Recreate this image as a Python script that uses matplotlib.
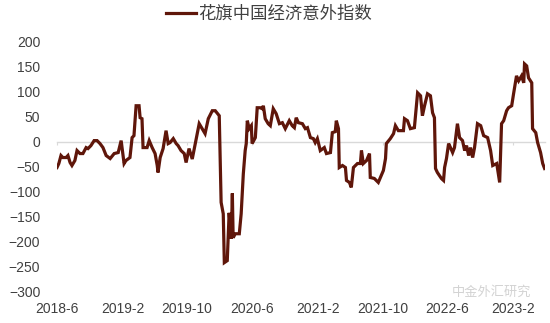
import pandas as pd
import matplotlib
matplotlib.use("Agg")
from matplotlib import pyplot as plt

plt.rcParams['font.family'] = ['Liberation Sans', 'Noto Sans CJK SC', 'DejaVu Sans']

# citi china economic surprise index
dates = [
    "2018-06-01", "2018-06-08", "2018-06-16", "2018-06-23", "2018-07-05", "2018-07-12",
    "2018-07-20", "2018-07-27", "2018-08-07", "2018-08-15", "2018-08-26", "2018-09-06",
    "2018-09-18", "2018-09-25", "2018-10-06", "2018-10-18", "2018-10-29", "2018-11-09",
    "2018-11-20", "2018-12-02", "2018-12-17", "2019-01-01", "2019-01-16", "2019-01-27",
    "2019-02-07", "2019-02-14", "2019-03-01", "2019-03-09", "2019-03-16", "2019-03-24",
    "2019-04-04", "2019-04-08", "2019-04-15", "2019-04-19", "2019-05-04", "2019-05-12",
    "2019-05-23", "2019-06-03", "2019-06-11", "2019-06-14", "2019-06-22", "2019-07-03",
    "2019-07-14", "2019-07-22", "2019-07-29", "2019-08-10", "2019-08-21", "2019-08-28",
    "2019-09-08", "2019-09-20", "2019-09-27", "2019-10-08", "2019-10-20", "2019-11-04",
    "2019-11-15", "2019-11-26", "2019-12-07", "2019-12-19", "2020-01-03", "2020-01-14",
    "2020-01-29", "2020-02-05", "2020-02-13", "2020-02-17", "2020-02-28", "2020-03-06",
    "2020-03-14", "2020-03-18", "2020-03-21", "2020-03-29", "2020-04-13", "2020-04-20",
    "2020-04-28", "2020-05-05", "2020-05-09", "2020-05-13", "2020-05-20", "2020-05-28",
    "2020-05-31", "2020-06-12", "2020-06-19", "2020-06-30", "2020-07-08", "2020-07-12",
    "2020-07-19", "2020-07-30", "2020-08-07", "2020-08-18", "2020-08-29", "2020-09-10",
    "2020-09-21", "2020-10-02", "2020-10-17", "2020-10-28", "2020-11-05", "2020-11-12",
    "2020-11-20", "2020-12-05", "2020-12-16", "2020-12-24", "2021-01-04", "2021-01-15",
    "2021-01-22", "2021-01-30", "2021-02-10", "2021-02-25", "2021-03-05", "2021-03-20",
    "2021-03-27", "2021-04-07", "2021-04-11", "2021-04-19", "2021-04-22", "2021-05-04",
    "2021-05-15", "2021-05-19", "2021-05-30", "2021-06-06", "2021-06-14", "2021-06-29",
    "2021-07-10", "2021-07-14", "2021-07-21", "2021-08-02", "2021-08-13", "2021-08-16",
    "2021-08-31", "2021-09-15", "2021-10-04", "2021-10-12", "2021-10-15", "2021-10-30",
    "2021-11-11", "2021-11-18", "2021-11-29", "2021-12-18", "2021-12-22", "2022-01-02",
    "2022-01-13", "2022-01-28", "2022-02-09", "2022-02-20", "2022-02-27", "2022-03-07",
    "2022-03-18", "2022-03-29", "2022-04-06", "2022-04-13", "2022-04-17", "2022-04-24",
    "2022-05-09", "2022-05-17", "2022-05-21", "2022-05-28", "2022-06-05", "2022-06-12",
    "2022-06-20", "2022-06-27", "2022-07-08", "2022-07-16", "2022-07-27", "2022-08-04",
    "2022-08-11", "2022-08-19", "2022-08-26", "2022-09-03", "2022-09-10", "2022-09-21",
    "2022-10-03", "2022-10-14", "2022-10-29", "2022-11-09", "2022-11-17", "2022-12-02",
    "2022-12-13", "2022-12-20", "2022-12-28", "2023-01-08", "2023-01-15", "2023-01-27",
    "2023-02-03", "2023-02-14", "2023-02-22", "2023-03-05", "2023-03-13", "2023-03-16",
    "2023-03-24", "2023-03-31", "2023-04-12", "2023-04-15", "2023-04-27", "2023-05-04",
    "2023-05-15", "2023-05-23", "2023-05-30",
]
values = [
    -52, -44, -28, -32, -32, -28,
    -42, -48, -38, -18, -24, -24,
    -12, -14, -8, 2, 2, -4,
    -12, -28, -34, -24, -22, 2,
    -44, -38, -32, 8, 12, 72,
    72, 48, 46, -12, -12, 2,
    -12, -24, -48, -62, -32, -14,
    22, -4, -2, 6, -4, -8,
    -18, -24, -42, -14, -35, 6,
    36, 26, 16, 46, 62, 62,
    52, -122, -145, -243, -239, -143,
    -195, -104, -193, -185, -185, -145,
    -65, -18, -4, 42, 26, 32,
    -4, 8, 68, 68, 66, 72,
    46, 36, 32, 66, 56, 36,
    38, 26, 42, 32, 28, 48,
    38, 36, 26, 28, 8, 6,
    -2, 6, -18, -12, -24, -22,
    18, 20, 42, 26, -52, -48,
    -52, -78, -82, -92, -52, -44,
    -44, -18, -44, -38, -24, -72,
    -74, -82, -58, -34, -4, 6,
    16, 32, 22, 22, 46, 42,
    26, 28, 98, 92, 52, 72,
    96, 92, 58, 48, -54, -62,
    -74, -78, -52, -34, -4, -12,
    -22, -12, 36, 8, 2, -18,
    -8, -28, -12, -32, -12, 36,
    32, 12, 8, -18, -48, -44,
    -82, 36, 42, 62, 68, 72,
    96, 132, 122, 132, 118, 156,
    152, 128, 118, 26, 18, -2,
    -22, -44, -54,
]
tick_dates = ["2018-06-01", "2019-02-01", "2019-10-01", "2020-06-01",
              "2021-02-01", "2021-10-01", "2022-06-01", "2023-02-01"]
tick_labels = ["2018-6", "2019-2", "2019-10", "2020-6",
               "2021-2", "2021-10", "2022-6", "2023-2"]
y_ticks = [200, 150, 100, 50, 0, -50, -100, -150, -200, -250, -300]

line_color = "#5f160a"
text_color = "#404040"

fig = plt.figure(figsize=(5.5, 3.23), dpi=100)
ax = fig.add_axes([0.1036, 0.099, 0.888, 0.771])

ax.plot(pd.to_datetime(dates), values, color=line_color, linewidth=2.3,
        label="花旗中国经济意外指数", solid_joinstyle="miter")

ax.set_ylim(-300, 200)
ax.set_yticks(y_ticks)
ax.set_xlim(pd.Timestamp("2018-06-01"), pd.Timestamp("2023-06-02"))
ax.set_xticks(pd.to_datetime(tick_dates))
ax.set_xticklabels(tick_labels)

for s in ["top", "right", "left"]:
    ax.spines[s].set_visible(False)
ax.spines["bottom"].set_position(("data", 0))
ax.spines["bottom"].set_color("#d9d9d9")
ax.spines["bottom"].set_linewidth(1.0)
ax.spines["bottom"].set_zorder(0)

ax.tick_params(axis="y", length=0, pad=12, labelsize=10, labelcolor=text_color)
ax.tick_params(axis="x", length=2.5, width=0.8, color="#d9d9d9", direction="out",
               pad=113, labelsize=10, labelcolor=text_color)

ax.legend(loc="center", bbox_to_anchor=(0.489, 0.957), bbox_transform=fig.transFigure,
          frameon=False, fontsize=12.5, handlelength=1.7, handletextpad=0.1,
          labelcolor=text_color)

# watermark, sits just above the last two date labels
fig.text(0.822, 0.096, "中金外汇研究", fontsize=9.5, color="#c8c8c8", alpha=0.8,
         ha="left", va="center")

fig.savefig("out.png", dpi=100)
